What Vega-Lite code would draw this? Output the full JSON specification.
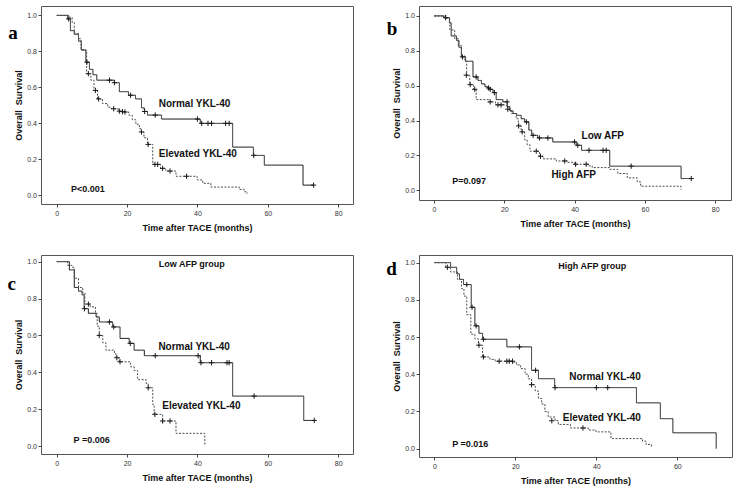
{
"$schema": "https://vega.github.io/schema/vega-lite/v6.json",
"background": "white",
"padding": {"left": 6, "top": 5, "right": 5, "bottom": 5},
"columns": 2,
"spacing": {"row": 51, "column": 66},
"bounds": "flush",
"resolve": {"scale": {"x": "independent", "y": "independent"}, "axis": {"x": "independent", "y": "independent"}},
"config": {
  "font": "Liberation Sans",
  "view": {"stroke": "#555555", "strokeWidth": 1},
  "axis": {"domain": false, "grid": false, "tickSize": 3, "tickColor": "#444444", "labelFontSize": 7, "labelColor": "#333333", "labelFont": "Liberation Sans", "labelPadding": 2, "titleFont": "Liberation Sans", "titleFontSize": 9, "titleFontWeight": "bold", "titleColor": "#111111"},
  "axisX": {"titlePadding": 7},
  "axisY": {"titlePadding": 3, "labelPadding": 1.5}
},
"datasets": {
  "curves": [
    {"panel":"a","group":"Normal YKL-40","month":0,"survival":1},
    {"panel":"a","group":"Normal YKL-40","month":3.1,"survival":0.98},
    {"panel":"a","group":"Normal YKL-40","month":3.9,"survival":0.915},
    {"panel":"a","group":"Normal YKL-40","month":5,"survival":0.895},
    {"panel":"a","group":"Normal YKL-40","month":6.2,"survival":0.857},
    {"panel":"a","group":"Normal YKL-40","month":7,"survival":0.807},
    {"panel":"a","group":"Normal YKL-40","month":8.3,"survival":0.74},
    {"panel":"a","group":"Normal YKL-40","month":9.3,"survival":0.70},
    {"panel":"a","group":"Normal YKL-40","month":10.3,"survival":0.67},
    {"panel":"a","group":"Normal YKL-40","month":11.4,"survival":0.64},
    {"panel":"a","group":"Normal YKL-40","month":16.4,"survival":0.626},
    {"panel":"a","group":"Normal YKL-40","month":17.8,"survival":0.576},
    {"panel":"a","group":"Normal YKL-40","month":20.4,"survival":0.556},
    {"panel":"a","group":"Normal YKL-40","month":22.4,"survival":0.536},
    {"panel":"a","group":"Normal YKL-40","month":24.1,"survival":0.486},
    {"panel":"a","group":"Normal YKL-40","month":24.9,"survival":0.466},
    {"panel":"a","group":"Normal YKL-40","month":25.8,"survival":0.446},
    {"panel":"a","group":"Normal YKL-40","month":29.8,"survival":0.424},
    {"panel":"a","group":"Normal YKL-40","month":40.8,"survival":0.40},
    {"panel":"a","group":"Normal YKL-40","month":50,"survival":0.268},
    {"panel":"a","group":"Normal YKL-40","month":55.9,"survival":0.222},
    {"panel":"a","group":"Normal YKL-40","month":59,"survival":0.168},
    {"panel":"a","group":"Normal YKL-40","month":70,"survival":0.057},
    {"panel":"a","group":"Normal YKL-40","month":73,"survival":0.057},

    {"panel":"a","group":"Elevated YKL-40","month":0,"survival":1},
    {"panel":"a","group":"Elevated YKL-40","month":3.5,"survival":0.99},
    {"panel":"a","group":"Elevated YKL-40","month":4.4,"survival":0.96},
    {"panel":"a","group":"Elevated YKL-40","month":5,"survival":0.90},
    {"panel":"a","group":"Elevated YKL-40","month":6.2,"survival":0.87},
    {"panel":"a","group":"Elevated YKL-40","month":6.9,"survival":0.81},
    {"panel":"a","group":"Elevated YKL-40","month":8.3,"survival":0.80},
    {"panel":"a","group":"Elevated YKL-40","month":8.5,"survival":0.676},
    {"panel":"a","group":"Elevated YKL-40","month":9.7,"survival":0.64},
    {"panel":"a","group":"Elevated YKL-40","month":10.6,"survival":0.583},
    {"panel":"a","group":"Elevated YKL-40","month":11.6,"survival":0.536},
    {"panel":"a","group":"Elevated YKL-40","month":13,"survival":0.51},
    {"panel":"a","group":"Elevated YKL-40","month":14.5,"survival":0.49},
    {"panel":"a","group":"Elevated YKL-40","month":15.5,"survival":0.481},
    {"panel":"a","group":"Elevated YKL-40","month":17.5,"survival":0.468},
    {"panel":"a","group":"Elevated YKL-40","month":18.5,"survival":0.465},
    {"panel":"a","group":"Elevated YKL-40","month":19.2,"survival":0.463},
    {"panel":"a","group":"Elevated YKL-40","month":20.5,"survival":0.445},
    {"panel":"a","group":"Elevated YKL-40","month":21.5,"survival":0.42},
    {"panel":"a","group":"Elevated YKL-40","month":22.5,"survival":0.395},
    {"panel":"a","group":"Elevated YKL-40","month":23.5,"survival":0.37},
    {"panel":"a","group":"Elevated YKL-40","month":24,"survival":0.352},
    {"panel":"a","group":"Elevated YKL-40","month":24.8,"survival":0.32},
    {"panel":"a","group":"Elevated YKL-40","month":25.8,"survival":0.283},
    {"panel":"a","group":"Elevated YKL-40","month":27.3,"survival":0.172},
    {"panel":"a","group":"Elevated YKL-40","month":29.5,"survival":0.15},
    {"panel":"a","group":"Elevated YKL-40","month":31,"survival":0.135},
    {"panel":"a","group":"Elevated YKL-40","month":33.9,"survival":0.106},
    {"panel":"a","group":"Elevated YKL-40","month":39.9,"survival":0.086},
    {"panel":"a","group":"Elevated YKL-40","month":41.5,"survival":0.067},
    {"panel":"a","group":"Elevated YKL-40","month":43.8,"survival":0.046},
    {"panel":"a","group":"Elevated YKL-40","month":51.9,"survival":0.033},
    {"panel":"a","group":"Elevated YKL-40","month":53.3,"survival":0.02},
    {"panel":"a","group":"Elevated YKL-40","month":54.1,"survival":0.009},

    {"panel":"b","group":"Low AFP","month":0,"survival":1},
    {"panel":"b","group":"Low AFP","month":2.8,"survival":0.99},
    {"panel":"b","group":"Low AFP","month":4.4,"survival":0.96},
    {"panel":"b","group":"Low AFP","month":4.9,"survival":0.885},
    {"panel":"b","group":"Low AFP","month":6.4,"survival":0.86},
    {"panel":"b","group":"Low AFP","month":7.1,"survival":0.82},
    {"panel":"b","group":"Low AFP","month":7.8,"survival":0.765},
    {"panel":"b","group":"Low AFP","month":9,"survival":0.74},
    {"panel":"b","group":"Low AFP","month":11.1,"survival":0.65},
    {"panel":"b","group":"Low AFP","month":12.5,"survival":0.63},
    {"panel":"b","group":"Low AFP","month":13.5,"survival":0.61},
    {"panel":"b","group":"Low AFP","month":14.5,"survival":0.595},
    {"panel":"b","group":"Low AFP","month":15.2,"survival":0.587},
    {"panel":"b","group":"Low AFP","month":15.8,"survival":0.579},
    {"panel":"b","group":"Low AFP","month":16.8,"survival":0.56},
    {"panel":"b","group":"Low AFP","month":17.7,"survival":0.52},
    {"panel":"b","group":"Low AFP","month":19.6,"survival":0.507},
    {"panel":"b","group":"Low AFP","month":20.9,"survival":0.48},
    {"panel":"b","group":"Low AFP","month":21.6,"survival":0.455},
    {"panel":"b","group":"Low AFP","month":22.5,"survival":0.44},
    {"panel":"b","group":"Low AFP","month":23.5,"survival":0.43},
    {"panel":"b","group":"Low AFP","month":24.8,"survival":0.41},
    {"panel":"b","group":"Low AFP","month":25.8,"survival":0.392},
    {"panel":"b","group":"Low AFP","month":27,"survival":0.345},
    {"panel":"b","group":"Low AFP","month":27.8,"survival":0.315},
    {"panel":"b","group":"Low AFP","month":29.5,"survival":0.30},
    {"panel":"b","group":"Low AFP","month":33.8,"survival":0.277},
    {"panel":"b","group":"Low AFP","month":40.5,"survival":0.258},
    {"panel":"b","group":"Low AFP","month":42,"survival":0.229},
    {"panel":"b","group":"Low AFP","month":50,"survival":0.138},
    {"panel":"b","group":"Low AFP","month":70.3,"survival":0.067},
    {"panel":"b","group":"Low AFP","month":73.2,"survival":0.067},

    {"panel":"b","group":"High AFP","month":0,"survival":1},
    {"panel":"b","group":"High AFP","month":3.5,"survival":0.985},
    {"panel":"b","group":"High AFP","month":4.5,"survival":0.92},
    {"panel":"b","group":"High AFP","month":5.9,"survival":0.87},
    {"panel":"b","group":"High AFP","month":6.9,"survival":0.83},
    {"panel":"b","group":"High AFP","month":7.8,"survival":0.77},
    {"panel":"b","group":"High AFP","month":8.8,"survival":0.74},
    {"panel":"b","group":"High AFP","month":9.3,"survival":0.66},
    {"panel":"b","group":"High AFP","month":10.2,"survival":0.606},
    {"panel":"b","group":"High AFP","month":11.3,"survival":0.579},
    {"panel":"b","group":"High AFP","month":12,"survival":0.52},
    {"panel":"b","group":"High AFP","month":15.5,"survival":0.507},
    {"panel":"b","group":"High AFP","month":17.5,"survival":0.49},
    {"panel":"b","group":"High AFP","month":20.6,"survival":0.48},
    {"panel":"b","group":"High AFP","month":21,"survival":0.465},
    {"panel":"b","group":"High AFP","month":22,"survival":0.44},
    {"panel":"b","group":"High AFP","month":23.4,"survival":0.41},
    {"panel":"b","group":"High AFP","month":24,"survival":0.369},
    {"panel":"b","group":"High AFP","month":24.8,"survival":0.335},
    {"panel":"b","group":"High AFP","month":25.8,"survival":0.29},
    {"panel":"b","group":"High AFP","month":26.5,"survival":0.26},
    {"panel":"b","group":"High AFP","month":27.3,"survival":0.224},
    {"panel":"b","group":"High AFP","month":30,"survival":0.195},
    {"panel":"b","group":"High AFP","month":31,"survival":0.18},
    {"panel":"b","group":"High AFP","month":34.8,"survival":0.168},
    {"panel":"b","group":"High AFP","month":38,"survival":0.16},
    {"panel":"b","group":"High AFP","month":40,"survival":0.149},
    {"panel":"b","group":"High AFP","month":44,"survival":0.14},
    {"panel":"b","group":"High AFP","month":45,"survival":0.13},
    {"panel":"b","group":"High AFP","month":50,"survival":0.12},
    {"panel":"b","group":"High AFP","month":52.3,"survival":0.096},
    {"panel":"b","group":"High AFP","month":55,"survival":0.071},
    {"panel":"b","group":"High AFP","month":57.8,"survival":0.048},
    {"panel":"b","group":"High AFP","month":58.8,"survival":0.023},
    {"panel":"b","group":"High AFP","month":70.3,"survival":0.003},

    {"panel":"c","group":"Normal YKL-40","month":0,"survival":1},
    {"panel":"c","group":"Normal YKL-40","month":3.6,"survival":0.955},
    {"panel":"c","group":"Normal YKL-40","month":5,"survival":0.86},
    {"panel":"c","group":"Normal YKL-40","month":6.2,"survival":0.84},
    {"panel":"c","group":"Normal YKL-40","month":7.2,"survival":0.82},
    {"panel":"c","group":"Normal YKL-40","month":7.8,"survival":0.745},
    {"panel":"c","group":"Normal YKL-40","month":9,"survival":0.72},
    {"panel":"c","group":"Normal YKL-40","month":11.2,"survival":0.70},
    {"panel":"c","group":"Normal YKL-40","month":12.1,"survival":0.673},
    {"panel":"c","group":"Normal YKL-40","month":15.9,"survival":0.646},
    {"panel":"c","group":"Normal YKL-40","month":18,"survival":0.584},
    {"panel":"c","group":"Normal YKL-40","month":20.6,"survival":0.557},
    {"panel":"c","group":"Normal YKL-40","month":22,"survival":0.52},
    {"panel":"c","group":"Normal YKL-40","month":24.9,"survival":0.49},
    {"panel":"c","group":"Normal YKL-40","month":40.8,"survival":0.452},
    {"panel":"c","group":"Normal YKL-40","month":50,"survival":0.271},
    {"panel":"c","group":"Normal YKL-40","month":70.2,"survival":0.139},
    {"panel":"c","group":"Normal YKL-40","month":73.2,"survival":0.139},

    {"panel":"c","group":"Elevated YKL-40","month":0,"survival":1},
    {"panel":"c","group":"Elevated YKL-40","month":3.1,"survival":0.98},
    {"panel":"c","group":"Elevated YKL-40","month":4.3,"survival":0.97},
    {"panel":"c","group":"Elevated YKL-40","month":5,"survival":0.91},
    {"panel":"c","group":"Elevated YKL-40","month":6.2,"survival":0.86},
    {"panel":"c","group":"Elevated YKL-40","month":7.4,"survival":0.83},
    {"panel":"c","group":"Elevated YKL-40","month":8,"survival":0.77},
    {"panel":"c","group":"Elevated YKL-40","month":9.5,"survival":0.755},
    {"panel":"c","group":"Elevated YKL-40","month":11,"survival":0.72},
    {"panel":"c","group":"Elevated YKL-40","month":11.5,"survival":0.65},
    {"panel":"c","group":"Elevated YKL-40","month":12.1,"survival":0.60},
    {"panel":"c","group":"Elevated YKL-40","month":13.1,"survival":0.56},
    {"panel":"c","group":"Elevated YKL-40","month":14,"survival":0.52},
    {"panel":"c","group":"Elevated YKL-40","month":16.4,"survival":0.50},
    {"panel":"c","group":"Elevated YKL-40","month":16.9,"survival":0.479},
    {"panel":"c","group":"Elevated YKL-40","month":17.8,"survival":0.457},
    {"panel":"c","group":"Elevated YKL-40","month":21,"survival":0.43},
    {"panel":"c","group":"Elevated YKL-40","month":22,"survival":0.41},
    {"panel":"c","group":"Elevated YKL-40","month":23,"survival":0.36},
    {"panel":"c","group":"Elevated YKL-40","month":25.4,"survival":0.34},
    {"panel":"c","group":"Elevated YKL-40","month":26,"survival":0.316},
    {"panel":"c","group":"Elevated YKL-40","month":27.3,"survival":0.225},
    {"panel":"c","group":"Elevated YKL-40","month":27.7,"survival":0.172},
    {"panel":"c","group":"Elevated YKL-40","month":30.1,"survival":0.136},
    {"panel":"c","group":"Elevated YKL-40","month":33.9,"survival":0.069},
    {"panel":"c","group":"Elevated YKL-40","month":42.1,"survival":0.0},

    {"panel":"d","group":"Normal YKL-40","month":0,"survival":1},
    {"panel":"d","group":"Normal YKL-40","month":4,"survival":0.975},
    {"panel":"d","group":"Normal YKL-40","month":5.5,"survival":0.94},
    {"panel":"d","group":"Normal YKL-40","month":6.2,"survival":0.91},
    {"panel":"d","group":"Normal YKL-40","month":7.2,"survival":0.882},
    {"panel":"d","group":"Normal YKL-40","month":9.1,"survival":0.76},
    {"panel":"d","group":"Normal YKL-40","month":10,"survival":0.66},
    {"panel":"d","group":"Normal YKL-40","month":11,"survival":0.62},
    {"panel":"d","group":"Normal YKL-40","month":11.9,"survival":0.588},
    {"panel":"d","group":"Normal YKL-40","month":17.9,"survival":0.547},
    {"panel":"d","group":"Normal YKL-40","month":24,"survival":0.421},
    {"panel":"d","group":"Normal YKL-40","month":25.7,"survival":0.376},
    {"panel":"d","group":"Normal YKL-40","month":29.7,"survival":0.328},
    {"panel":"d","group":"Normal YKL-40","month":49.9,"survival":0.246},
    {"panel":"d","group":"Normal YKL-40","month":55.8,"survival":0.161},
    {"panel":"d","group":"Normal YKL-40","month":58.9,"survival":0.085},
    {"panel":"d","group":"Normal YKL-40","month":69.6,"survival":0.0},

    {"panel":"d","group":"Elevated YKL-40","month":0,"survival":1},
    {"panel":"d","group":"Elevated YKL-40","month":2.8,"survival":0.975},
    {"panel":"d","group":"Elevated YKL-40","month":4,"survival":0.95},
    {"panel":"d","group":"Elevated YKL-40","month":5.7,"survival":0.91},
    {"panel":"d","group":"Elevated YKL-40","month":6.7,"survival":0.86},
    {"panel":"d","group":"Elevated YKL-40","month":7.3,"survival":0.82},
    {"panel":"d","group":"Elevated YKL-40","month":8,"survival":0.72},
    {"panel":"d","group":"Elevated YKL-40","month":9,"survival":0.615},
    {"panel":"d","group":"Elevated YKL-40","month":10,"survival":0.59},
    {"panel":"d","group":"Elevated YKL-40","month":10.9,"survival":0.556},
    {"panel":"d","group":"Elevated YKL-40","month":11.9,"survival":0.493},
    {"panel":"d","group":"Elevated YKL-40","month":13.7,"survival":0.48},
    {"panel":"d","group":"Elevated YKL-40","month":15,"survival":0.47},
    {"panel":"d","group":"Elevated YKL-40","month":19.5,"survival":0.465},
    {"panel":"d","group":"Elevated YKL-40","month":20.3,"survival":0.45},
    {"panel":"d","group":"Elevated YKL-40","month":21.3,"survival":0.43},
    {"panel":"d","group":"Elevated YKL-40","month":22.4,"survival":0.40},
    {"panel":"d","group":"Elevated YKL-40","month":23.2,"survival":0.375},
    {"panel":"d","group":"Elevated YKL-40","month":24,"survival":0.344},
    {"panel":"d","group":"Elevated YKL-40","month":24.9,"survival":0.31},
    {"panel":"d","group":"Elevated YKL-40","month":25.7,"survival":0.27},
    {"panel":"d","group":"Elevated YKL-40","month":26.5,"survival":0.24},
    {"panel":"d","group":"Elevated YKL-40","month":27.3,"survival":0.20},
    {"panel":"d","group":"Elevated YKL-40","month":28.1,"survival":0.17},
    {"panel":"d","group":"Elevated YKL-40","month":29.8,"survival":0.15},
    {"panel":"d","group":"Elevated YKL-40","month":30.6,"survival":0.13},
    {"panel":"d","group":"Elevated YKL-40","month":33.6,"survival":0.111},
    {"panel":"d","group":"Elevated YKL-40","month":38,"survival":0.10},
    {"panel":"d","group":"Elevated YKL-40","month":39.9,"survival":0.09},
    {"panel":"d","group":"Elevated YKL-40","month":43.6,"survival":0.054},
    {"panel":"d","group":"Elevated YKL-40","month":51.4,"survival":0.04},
    {"panel":"d","group":"Elevated YKL-40","month":52.3,"survival":0.022},
    {"panel":"d","group":"Elevated YKL-40","month":53.6,"survival":0.004}
  ],
  "censored": [
    {"panel":"a","group":"Normal YKL-40","month":3.4,"survival":0.98},
    {"panel":"a","group":"Normal YKL-40","month":8.6,"survival":0.74},
    {"panel":"a","group":"Normal YKL-40","month":15,"survival":0.64},
    {"panel":"a","group":"Normal YKL-40","month":16.4,"survival":0.626},
    {"panel":"a","group":"Normal YKL-40","month":21,"survival":0.556},
    {"panel":"a","group":"Normal YKL-40","month":25,"survival":0.466},
    {"panel":"a","group":"Normal YKL-40","month":28,"survival":0.446},
    {"panel":"a","group":"Normal YKL-40","month":40,"survival":0.424},
    {"panel":"a","group":"Normal YKL-40","month":41.2,"survival":0.40},
    {"panel":"a","group":"Normal YKL-40","month":43,"survival":0.40},
    {"panel":"a","group":"Normal YKL-40","month":44,"survival":0.40},
    {"panel":"a","group":"Normal YKL-40","month":48,"survival":0.40},
    {"panel":"a","group":"Normal YKL-40","month":49,"survival":0.40},
    {"panel":"a","group":"Normal YKL-40","month":56,"survival":0.222},
    {"panel":"a","group":"Normal YKL-40","month":73,"survival":0.057},
    {"panel":"a","group":"Elevated YKL-40","month":9.0,"survival":0.676},
    {"panel":"a","group":"Elevated YKL-40","month":11.0,"survival":0.583},
    {"panel":"a","group":"Elevated YKL-40","month":11.9,"survival":0.536},
    {"panel":"a","group":"Elevated YKL-40","month":16.2,"survival":0.481},
    {"panel":"a","group":"Elevated YKL-40","month":17.8,"survival":0.468},
    {"panel":"a","group":"Elevated YKL-40","month":18.7,"survival":0.465},
    {"panel":"a","group":"Elevated YKL-40","month":19.4,"survival":0.463},
    {"panel":"a","group":"Elevated YKL-40","month":24.1,"survival":0.352},
    {"panel":"a","group":"Elevated YKL-40","month":26.0,"survival":0.283},
    {"panel":"a","group":"Elevated YKL-40","month":27.9,"survival":0.172},
    {"panel":"a","group":"Elevated YKL-40","month":28.7,"survival":0.172},
    {"panel":"a","group":"Elevated YKL-40","month":30.1,"survival":0.15},
    {"panel":"a","group":"Elevated YKL-40","month":32.2,"survival":0.135},
    {"panel":"a","group":"Elevated YKL-40","month":36.9,"survival":0.106},

    {"panel":"b","group":"Low AFP","month":3.3,"survival":0.99},
    {"panel":"b","group":"Low AFP","month":8.1,"survival":0.765},
    {"panel":"b","group":"Low AFP","month":12,"survival":0.65},
    {"panel":"b","group":"Low AFP","month":15.5,"survival":0.587},
    {"panel":"b","group":"Low AFP","month":16,"survival":0.579},
    {"panel":"b","group":"Low AFP","month":17.2,"survival":0.56},
    {"panel":"b","group":"Low AFP","month":20.8,"survival":0.507},
    {"panel":"b","group":"Low AFP","month":26.3,"survival":0.392},
    {"panel":"b","group":"Low AFP","month":28.2,"survival":0.315},
    {"panel":"b","group":"Low AFP","month":30,"survival":0.30},
    {"panel":"b","group":"Low AFP","month":32.4,"survival":0.30},
    {"panel":"b","group":"Low AFP","month":40,"survival":0.277},
    {"panel":"b","group":"Low AFP","month":40.9,"survival":0.258},
    {"panel":"b","group":"Low AFP","month":44.1,"survival":0.229},
    {"panel":"b","group":"Low AFP","month":48.1,"survival":0.229},
    {"panel":"b","group":"Low AFP","month":49,"survival":0.229},
    {"panel":"b","group":"Low AFP","month":56.1,"survival":0.138},
    {"panel":"b","group":"Low AFP","month":73.2,"survival":0.067},
    {"panel":"b","group":"High AFP","month":9.2,"survival":0.66},
    {"panel":"b","group":"High AFP","month":10.3,"survival":0.606},
    {"panel":"b","group":"High AFP","month":11.6,"survival":0.579},
    {"panel":"b","group":"High AFP","month":16,"survival":0.507},
    {"panel":"b","group":"High AFP","month":18.2,"survival":0.49},
    {"panel":"b","group":"High AFP","month":19.1,"survival":0.49},
    {"panel":"b","group":"High AFP","month":21,"survival":0.465},
    {"panel":"b","group":"High AFP","month":24.1,"survival":0.369},
    {"panel":"b","group":"High AFP","month":25.1,"survival":0.335},
    {"panel":"b","group":"High AFP","month":29.1,"survival":0.224},
    {"panel":"b","group":"High AFP","month":30.3,"survival":0.195},
    {"panel":"b","group":"High AFP","month":37.2,"survival":0.168},
    {"panel":"b","group":"High AFP","month":40.3,"survival":0.149},
    {"panel":"b","group":"High AFP","month":43.3,"survival":0.149},

    {"panel":"c","group":"Normal YKL-40","month":7.9,"survival":0.745},
    {"panel":"c","group":"Normal YKL-40","month":15,"survival":0.673},
    {"panel":"c","group":"Normal YKL-40","month":16.2,"survival":0.646},
    {"panel":"c","group":"Normal YKL-40","month":20.9,"survival":0.557},
    {"panel":"c","group":"Normal YKL-40","month":28,"survival":0.49},
    {"panel":"c","group":"Normal YKL-40","month":40.2,"survival":0.49},
    {"panel":"c","group":"Normal YKL-40","month":41,"survival":0.452},
    {"panel":"c","group":"Normal YKL-40","month":44,"survival":0.452},
    {"panel":"c","group":"Normal YKL-40","month":48.4,"survival":0.452},
    {"panel":"c","group":"Normal YKL-40","month":49,"survival":0.452},
    {"panel":"c","group":"Normal YKL-40","month":56.1,"survival":0.271},
    {"panel":"c","group":"Normal YKL-40","month":73.2,"survival":0.139},
    {"panel":"c","group":"Elevated YKL-40","month":9.0,"survival":0.77},
    {"panel":"c","group":"Elevated YKL-40","month":12.1,"survival":0.60},
    {"panel":"c","group":"Elevated YKL-40","month":17.1,"survival":0.479},
    {"panel":"c","group":"Elevated YKL-40","month":18,"survival":0.457},
    {"panel":"c","group":"Elevated YKL-40","month":26,"survival":0.316},
    {"panel":"c","group":"Elevated YKL-40","month":27.9,"survival":0.172},
    {"panel":"c","group":"Elevated YKL-40","month":30.1,"survival":0.136},
    {"panel":"c","group":"Elevated YKL-40","month":32.2,"survival":0.136},

    {"panel":"d","group":"Normal YKL-40","month":8.0,"survival":0.882},
    {"panel":"d","group":"Normal YKL-40","month":9.3,"survival":0.76},
    {"panel":"d","group":"Normal YKL-40","month":10.3,"survival":0.66},
    {"panel":"d","group":"Normal YKL-40","month":12.1,"survival":0.588},
    {"panel":"d","group":"Normal YKL-40","month":21,"survival":0.547},
    {"panel":"d","group":"Normal YKL-40","month":25,"survival":0.421},
    {"panel":"d","group":"Normal YKL-40","month":29.8,"survival":0.328},
    {"panel":"d","group":"Normal YKL-40","month":40,"survival":0.328},
    {"panel":"d","group":"Normal YKL-40","month":42.8,"survival":0.328},
    {"panel":"d","group":"Elevated YKL-40","month":3.2,"survival":0.975},
    {"panel":"d","group":"Elevated YKL-40","month":11,"survival":0.556},
    {"panel":"d","group":"Elevated YKL-40","month":12.1,"survival":0.493},
    {"panel":"d","group":"Elevated YKL-40","month":16,"survival":0.47},
    {"panel":"d","group":"Elevated YKL-40","month":17.9,"survival":0.47},
    {"panel":"d","group":"Elevated YKL-40","month":18.5,"survival":0.47},
    {"panel":"d","group":"Elevated YKL-40","month":19.3,"survival":0.47},
    {"panel":"d","group":"Elevated YKL-40","month":24,"survival":0.344},
    {"panel":"d","group":"Elevated YKL-40","month":29,"survival":0.15},
    {"panel":"d","group":"Elevated YKL-40","month":36.7,"survival":0.111}
  ],
  "labels": [
    {"panel":"a","kind":"letter","text":"a","month":-12.4,"survival":0.90},
    {"panel":"a","kind":"group","text":"Normal YKL-40","month":29.0,"survival":0.506},
    {"panel":"a","kind":"group","text":"Elevated YKL-40","month":29.0,"survival":0.231},
    {"panel":"a","kind":"p","text":"P<0.001","month":4.06,"survival":0.037},
    {"panel":"b","kind":"letter","text":"b","month":-11.9,"survival":0.924},
    {"panel":"b","kind":"group","text":"Low AFP","month":42.0,"survival":0.31},
    {"panel":"b","kind":"group","text":"High AFP","month":33.4,"survival":0.086},
    {"panel":"b","kind":"p","text":"P=0.097","month":5.2,"survival":0.052},
    {"panel":"c","kind":"letter","text":"c","month":-12.8,"survival":0.877},
    {"panel":"c","kind":"p","text":"Low AFP group","month":29.0,"survival":0.989},
    {"panel":"c","kind":"group","text":"Normal YKL-40","month":28.9,"survival":0.537},
    {"panel":"c","kind":"group","text":"Elevated YKL-40","month":30.0,"survival":0.215},
    {"panel":"c","kind":"p","text":"P =0.006","month":4.8,"survival":0.033},
    {"panel":"d","kind":"letter","text":"d","month":-10.6,"survival":0.968},
    {"panel":"d","kind":"p","text":"High AFP group","month":30.6,"survival":0.982},
    {"panel":"d","kind":"group","text":"Normal YKL-40","month":33.3,"survival":0.383},
    {"panel":"d","kind":"group","text":"Elevated YKL-40","month":31.7,"survival":0.166},
    {"panel":"d","kind":"p","text":"P =0.016","month":4.4,"survival":0.027}
  ]
},
"concat": [
  {
    "width": 312, "height": 198,
    "encoding": {
      "x": {"field":"month","type":"quantitative","scale":{"domain":[-4.46,84.2],"nice":false,"zero":false},"axis":{"values":[0,20,40,60,80],"title":"Time after TACE (months)"}},
      "y": {"field":"survival","type":"quantitative","scale":{"domain":[-0.048,1.052],"nice":false,"zero":false},"axis":{"values":[0,0.2,0.4,0.6,0.8,1],"format":".1f","title":"Overall \u00a0Survival"}}
    },
    "layer": [
      {"data":{"name":"curves"},"transform":[{"filter":"datum.panel === 'a'"}],"mark":{"type":"line","interpolate":"step-after","strokeWidth":1},"encoding":{"detail":{"field":"group"},"color":{"field":"group","type":"nominal","scale":{"domain":["Normal YKL-40","Low AFP","Elevated YKL-40","High AFP"],"range":["#1a1a1a","#1a1a1a","#4d4d4d","#4d4d4d"]},"legend":null},"strokeDash":{"field":"group","type":"nominal","scale":{"domain":["Normal YKL-40","Low AFP","Elevated YKL-40","High AFP"],"range":[[1,0],[1,0],[2,1.5],[2,1.5]]},"legend":null}}},
      {"data":{"name":"censored"},"transform":[{"filter":"datum.panel === 'a'"}],"mark":{"type":"point","shape":"M-1,0L1,0M0,-1L0,1","filled":false,"color":"#1a1a1a","strokeWidth":1,"size":28,"opacity":1}},
      {"data":{"name":"labels"},"transform":[{"filter":"datum.panel === 'a' && datum.kind === 'group'"}],"mark":{"type":"text","align":"left","baseline":"middle","font":"Liberation Sans","fontWeight":"bold","fontSize":10,"color":"#111111"},"encoding":{"text":{"field":"text"}}},
      {"data":{"name":"labels"},"transform":[{"filter":"datum.panel === 'a' && datum.kind === 'p'"}],"mark":{"type":"text","align":"left","baseline":"middle","font":"Liberation Sans","fontWeight":"bold","fontSize":9,"color":"#111111"},"encoding":{"text":{"field":"text"}}},
      {"data":{"name":"labels"},"transform":[{"filter":"datum.panel === 'a' && datum.kind === 'letter'"}],"mark":{"type":"text","align":"center","baseline":"middle","font":"Liberation Serif","fontWeight":"bold","fontSize":19,"color":"#000000"},"encoding":{"text":{"field":"text"}}}
    ]
  },
  {
    "width": 312, "height": 194,
    "encoding": {
      "x": {"field":"month","type":"quantitative","scale":{"domain":[-4.26,84.5],"nice":false,"zero":false},"axis":{"values":[0,20,40,60,80],"title":"Time after TACE (months)"}},
      "y": {"field":"survival","type":"quantitative","scale":{"domain":[-0.056,1.057],"nice":false,"zero":false},"axis":{"values":[0,0.2,0.4,0.6,0.8,1],"format":".1f","title":"Overall \u00a0Survival"}}
    },
    "layer": [
      {"data":{"name":"curves"},"transform":[{"filter":"datum.panel === 'b'"}],"mark":{"type":"line","interpolate":"step-after","strokeWidth":1},"encoding":{"detail":{"field":"group"},"color":{"field":"group","type":"nominal","scale":{"domain":["Normal YKL-40","Low AFP","Elevated YKL-40","High AFP"],"range":["#1a1a1a","#1a1a1a","#4d4d4d","#4d4d4d"]},"legend":null},"strokeDash":{"field":"group","type":"nominal","scale":{"domain":["Normal YKL-40","Low AFP","Elevated YKL-40","High AFP"],"range":[[1,0],[1,0],[2,1.5],[2,1.5]]},"legend":null}}},
      {"data":{"name":"censored"},"transform":[{"filter":"datum.panel === 'b'"}],"mark":{"type":"point","shape":"M-1,0L1,0M0,-1L0,1","filled":false,"color":"#1a1a1a","strokeWidth":1,"size":28,"opacity":1}},
      {"data":{"name":"labels"},"transform":[{"filter":"datum.panel === 'b' && datum.kind === 'group'"}],"mark":{"type":"text","align":"left","baseline":"middle","font":"Liberation Sans","fontWeight":"bold","fontSize":10,"color":"#111111"},"encoding":{"text":{"field":"text"}}},
      {"data":{"name":"labels"},"transform":[{"filter":"datum.panel === 'b' && datum.kind === 'p'"}],"mark":{"type":"text","align":"left","baseline":"middle","font":"Liberation Sans","fontWeight":"bold","fontSize":9,"color":"#111111"},"encoding":{"text":{"field":"text"}}},
      {"data":{"name":"labels"},"transform":[{"filter":"datum.panel === 'b' && datum.kind === 'letter'"}],"mark":{"type":"text","align":"center","baseline":"middle","font":"Liberation Serif","fontWeight":"bold","fontSize":19,"color":"#000000"},"encoding":{"text":{"field":"text"}}}
    ]
  },
  {
    "width": 312, "height": 199,
    "encoding": {
      "x": {"field":"month","type":"quantitative","scale":{"domain":[-4.46,84.2],"nice":false,"zero":false},"axis":{"values":[0,20,40,60,80],"title":"Time after TACE (months)"}},
      "y": {"field":"survival","type":"quantitative","scale":{"domain":[-0.043,1.036],"nice":false,"zero":false},"axis":{"values":[0,0.2,0.4,0.6,0.8,1],"format":".1f","title":"Overall \u00a0Survival"}}
    },
    "layer": [
      {"data":{"name":"curves"},"transform":[{"filter":"datum.panel === 'c'"}],"mark":{"type":"line","interpolate":"step-after","strokeWidth":1},"encoding":{"detail":{"field":"group"},"color":{"field":"group","type":"nominal","scale":{"domain":["Normal YKL-40","Low AFP","Elevated YKL-40","High AFP"],"range":["#1a1a1a","#1a1a1a","#4d4d4d","#4d4d4d"]},"legend":null},"strokeDash":{"field":"group","type":"nominal","scale":{"domain":["Normal YKL-40","Low AFP","Elevated YKL-40","High AFP"],"range":[[1,0],[1,0],[2,1.5],[2,1.5]]},"legend":null}}},
      {"data":{"name":"censored"},"transform":[{"filter":"datum.panel === 'c'"}],"mark":{"type":"point","shape":"M-1,0L1,0M0,-1L0,1","filled":false,"color":"#1a1a1a","strokeWidth":1,"size":28,"opacity":1}},
      {"data":{"name":"labels"},"transform":[{"filter":"datum.panel === 'c' && datum.kind === 'group'"}],"mark":{"type":"text","align":"left","baseline":"middle","font":"Liberation Sans","fontWeight":"bold","fontSize":10,"color":"#111111"},"encoding":{"text":{"field":"text"}}},
      {"data":{"name":"labels"},"transform":[{"filter":"datum.panel === 'c' && datum.kind === 'p'"}],"mark":{"type":"text","align":"left","baseline":"middle","font":"Liberation Sans","fontWeight":"bold","fontSize":9,"color":"#111111"},"encoding":{"text":{"field":"text"}}},
      {"data":{"name":"labels"},"transform":[{"filter":"datum.panel === 'c' && datum.kind === 'letter'"}],"mark":{"type":"text","align":"center","baseline":"middle","font":"Liberation Serif","fontWeight":"bold","fontSize":19,"color":"#000000"},"encoding":{"text":{"field":"text"}}}
    ]
  },
  {
    "width": 313, "height": 202,
    "encoding": {
      "x": {"field":"month","type":"quantitative","scale":{"domain":[-3.8,73.5],"nice":false,"zero":false},"axis":{"values":[0,20,40,60],"title":"Time after TACE (months)"}},
      "y": {"field":"survival","type":"quantitative","scale":{"domain":[-0.045,1.041],"nice":false,"zero":false},"axis":{"values":[0,0.2,0.4,0.6,0.8,1],"format":".1f","title":"Overall \u00a0Survival"}}
    },
    "layer": [
      {"data":{"name":"curves"},"transform":[{"filter":"datum.panel === 'd'"}],"mark":{"type":"line","interpolate":"step-after","strokeWidth":1},"encoding":{"detail":{"field":"group"},"color":{"field":"group","type":"nominal","scale":{"domain":["Normal YKL-40","Low AFP","Elevated YKL-40","High AFP"],"range":["#1a1a1a","#1a1a1a","#4d4d4d","#4d4d4d"]},"legend":null},"strokeDash":{"field":"group","type":"nominal","scale":{"domain":["Normal YKL-40","Low AFP","Elevated YKL-40","High AFP"],"range":[[1,0],[1,0],[2,1.5],[2,1.5]]},"legend":null}}},
      {"data":{"name":"censored"},"transform":[{"filter":"datum.panel === 'd'"}],"mark":{"type":"point","shape":"M-1,0L1,0M0,-1L0,1","filled":false,"color":"#1a1a1a","strokeWidth":1,"size":28,"opacity":1}},
      {"data":{"name":"labels"},"transform":[{"filter":"datum.panel === 'd' && datum.kind === 'group'"}],"mark":{"type":"text","align":"left","baseline":"middle","font":"Liberation Sans","fontWeight":"bold","fontSize":10,"color":"#111111"},"encoding":{"text":{"field":"text"}}},
      {"data":{"name":"labels"},"transform":[{"filter":"datum.panel === 'd' && datum.kind === 'p'"}],"mark":{"type":"text","align":"left","baseline":"middle","font":"Liberation Sans","fontWeight":"bold","fontSize":9,"color":"#111111"},"encoding":{"text":{"field":"text"}}},
      {"data":{"name":"labels"},"transform":[{"filter":"datum.panel === 'd' && datum.kind === 'letter'"}],"mark":{"type":"text","align":"center","baseline":"middle","font":"Liberation Serif","fontWeight":"bold","fontSize":19,"color":"#000000"},"encoding":{"text":{"field":"text"}}}
    ]
  }
]
}
